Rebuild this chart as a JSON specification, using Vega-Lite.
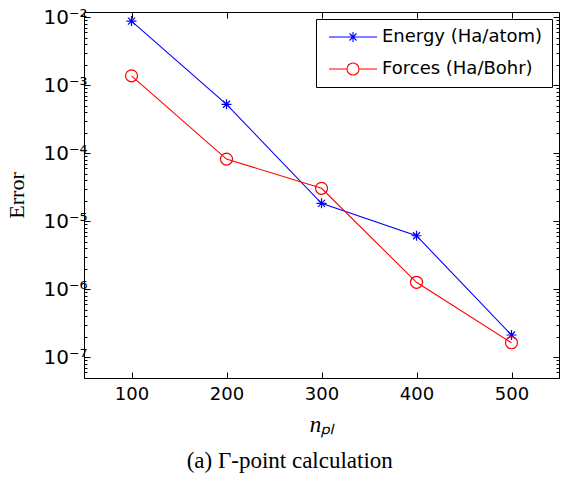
{
  "$schema": "https://vega.github.io/schema/vega-lite/v6.json",
  "width": 475,
  "height": 366,
  "autosize": "none",
  "padding": {"left": 84, "top": 12, "right": 2, "bottom": 104},
  "background": "white",
  "title": {
    "text": "(a) Γ-point calculation",
    "orient": "bottom",
    "anchor": "middle",
    "frame": "bounds",
    "font": "Liberation Serif",
    "fontSize": 23,
    "fontWeight": "normal",
    "color": "black",
    "offset": 14,
    "dx": 7
  },
  "data": {
    "values": [
      {"n": 100, "series": "Energy (Ha/atom)", "err": 0.0088},
      {"n": 200, "series": "Energy (Ha/atom)", "err": 0.000526},
      {"n": 300, "series": "Energy (Ha/atom)", "err": 0.0000184},
      {"n": 400, "series": "Energy (Ha/atom)", "err": 0.00000614},
      {"n": 500, "series": "Energy (Ha/atom)", "err": 0.000000213},
      {"n": 100, "series": "Forces (Ha/Bohr)", "err": 0.00138},
      {"n": 200, "series": "Forces (Ha/Bohr)", "err": 0.0000824},
      {"n": 300, "series": "Forces (Ha/Bohr)", "err": 0.0000306},
      {"n": 400, "series": "Forces (Ha/Bohr)", "err": 0.00000127},
      {"n": 500, "series": "Forces (Ha/Bohr)", "err": 0.000000164}
    ]
  },
  "resolve": {"axis": {"x": "independent", "y": "independent"}},
  "layer": [
    {
      "transform": [{"filter": "datum.series === 'Energy (Ha/atom)'"}],
      "mark": {"type": "line", "color": "#0000ff", "strokeWidth": 1.1},
      "encoding": {
        "x": {
          "field": "n", "type": "quantitative",
          "scale": {"domain": [50, 550], "nice": false, "zero": false},
          "axis": {
            "orient": "bottom", "values": [100, 200, 300, 400, 500],
            "tickSize": -6, "labelPadding": 13, "title": "nₚₗ",
            "titleFont": "Liberation Serif", "titleFontStyle": "italic",
            "titleFontWeight": "normal", "titleFontSize": 23, "titlePadding": 10
          }
        },
        "y": {
          "field": "err", "type": "quantitative",
          "scale": {"type": "log", "domain": [4.97e-8, 0.01197], "nice": false},
          "axis": {
            "orient": "left",
            "values": [1e-7, 1e-6, 1e-5, 1e-4, 1e-3, 1e-2],
            "labelExpr": "datum.value < 3e-7 ? '10⁻⁷' : datum.value < 3e-6 ? '10⁻⁶' : datum.value < 3e-5 ? '10⁻⁵' : datum.value < 3e-4 ? '10⁻⁴' : datum.value < 3e-3 ? '10⁻³' : '10⁻²'",
            "tickSize": -6, "labelPadding": 3, "labelFontSize": 20,
            "title": "Error", "titleFont": "Liberation Serif",
            "titleFontWeight": "normal", "titleFontSize": 22, "titlePadding": 14
          }
        }
      }
    },
    {
      "transform": [{"filter": "datum.series === 'Forces (Ha/Bohr)'"}],
      "mark": {"type": "line", "color": "#ff0000", "strokeWidth": 1.1},
      "encoding": {
        "x": {"field": "n", "type": "quantitative", "axis": null},
        "y": {"field": "err", "type": "quantitative", "axis": null}
      }
    },
    {
      "transform": [{"filter": "datum.series === 'Energy (Ha/atom)'"}],
      "mark": {"type": "point", "filled": false, "color": "#0000ff", "strokeWidth": 1.2, "opacity": 1, "size": 100,
               "shape": "M-1,0L1,0M0,-1L0,1M-0.7,-0.7L0.7,0.7M-0.7,0.7L0.7,-0.7"},
      "encoding": {
        "x": {"field": "n", "type": "quantitative", "axis": null},
        "y": {"field": "err", "type": "quantitative", "axis": null}
      }
    },
    {
      "transform": [{"filter": "datum.series === 'Forces (Ha/Bohr)'"}],
      "mark": {"type": "point", "filled": false, "color": "#ff0000", "strokeWidth": 1.2, "opacity": 1, "size": 100,
               "shape": "M-1.2,0A1.2,1.2 0 1,1 1.2,0A1.2,1.2 0 1,1 -1.2,0Z"},
      "encoding": {
        "x": {"field": "n", "type": "quantitative", "axis": null},
        "y": {"field": "err", "type": "quantitative", "axis": null}
      }
    },
    {
      "mark": {"type": "point", "filled": false, "opacity": 0, "size": 100},
      "encoding": {
        "x": {"field": "n", "type": "quantitative", "axis": null},
        "y": {"field": "err", "type": "quantitative", "axis": null},
        "color": {
          "field": "series", "type": "nominal",
          "scale": {"domain": ["Energy (Ha/atom)", "Forces (Ha/Bohr)"], "range": ["#0000ff", "#ff0000"]},
          "legend": {
            "title": null, "orient": "top-right", "offset": 7,
            "strokeColor": "black", "fillColor": "white", "padding": 9,
            "labelFont": "DejaVu Sans", "labelFontSize": 18, "labelColor": "black", "labelLimit": 400,
            "symbolSize": 100, "symbolOffset": 19, "labelOffset": 20,
            "symbolStrokeWidth": 1.1, "symbolOpacity": 1, "rowPadding": 14
          }
        },
        "shape": {
          "field": "series", "type": "nominal",
          "scale": {
            "domain": ["Energy (Ha/atom)", "Forces (Ha/Bohr)"],
            "range": [
              "M-4.8,0L4.8,0M0,-1L0,1M-0.7,-0.7L0.7,0.7M-0.7,0.7L0.7,-0.7",
              "M-4.8,0L-1.2,0M1.2,0L4.8,0M-1.2,0A1.2,1.2 0 1,1 1.2,0A1.2,1.2 0 1,1 -1.2,0Z"
            ]
          },
          "legend": {
            "title": null, "orient": "top-right", "offset": 7,
            "strokeColor": "black", "fillColor": "white", "padding": 9,
            "labelFont": "DejaVu Sans", "labelFontSize": 18, "labelColor": "black", "labelLimit": 400,
            "symbolSize": 100, "symbolOffset": 19, "labelOffset": 20,
            "symbolStrokeWidth": 1.1, "symbolOpacity": 1, "rowPadding": 14
          }
        }
      }
    },
    {
      "mark": {"type": "point", "opacity": 0},
      "encoding": {
        "x": {"field": "n", "type": "quantitative",
              "axis": {"orient": "top", "values": [100, 200, 300, 400, 500], "labels": false, "tickSize": -6, "title": null}},
        "y": {"field": "err", "type": "quantitative",
              "axis": {"orient": "right", "values": [1e-7, 1e-6, 1e-5, 1e-4, 1e-3, 1e-2], "labels": false, "tickSize": -6, "title": null}}
      }
    },
    {
      "mark": {"type": "point", "opacity": 0},
      "encoding": {
        "x": {"field": "n", "type": "quantitative", "axis": null},
        "y": {"field": "err", "type": "quantitative",
              "axis": {"orient": "left", "labels": false, "tickSize": -3, "title": null,
                       "values": [5e-8, 6e-8, 7e-8, 8e-8, 9e-8, 2e-7, 3e-7, 4e-7, 5e-7, 6e-7, 7e-7, 8e-7, 9e-7, 2e-6, 3e-6, 4e-6, 5e-6, 6e-6, 7e-6, 8e-6, 9e-6, 2e-5, 3e-5, 4e-5, 5e-5, 6e-5, 7e-5, 8e-5, 9e-5, 2e-4, 3e-4, 4e-4, 5e-4, 6e-4, 7e-4, 8e-4, 9e-4, 2e-3, 3e-3, 4e-3, 5e-3, 6e-3, 7e-3, 8e-3, 9e-3]}}
      }
    },
    {
      "mark": {"type": "point", "opacity": 0},
      "encoding": {
        "x": {"field": "n", "type": "quantitative", "axis": null},
        "y": {"field": "err", "type": "quantitative",
              "axis": {"orient": "right", "labels": false, "tickSize": -3, "title": null,
                       "values": [5e-8, 6e-8, 7e-8, 8e-8, 9e-8, 2e-7, 3e-7, 4e-7, 5e-7, 6e-7, 7e-7, 8e-7, 9e-7, 2e-6, 3e-6, 4e-6, 5e-6, 6e-6, 7e-6, 8e-6, 9e-6, 2e-5, 3e-5, 4e-5, 5e-5, 6e-5, 7e-5, 8e-5, 9e-5, 2e-4, 3e-4, 4e-4, 5e-4, 6e-4, 7e-4, 8e-4, 9e-4, 2e-3, 3e-3, 4e-3, 5e-3, 6e-3, 7e-3, 8e-3, 9e-3]}}
      }
    }
  ],
  "config": {
    "view": {"stroke": "black", "strokeWidth": 1},
    "axis": {
      "grid": false, "domain": false, "tickColor": "black", "tickWidth": 1,
      "labelColor": "black", "titleColor": "black",
      "labelFont": "DejaVu Sans", "labelFontSize": 18
    }
  }
}
